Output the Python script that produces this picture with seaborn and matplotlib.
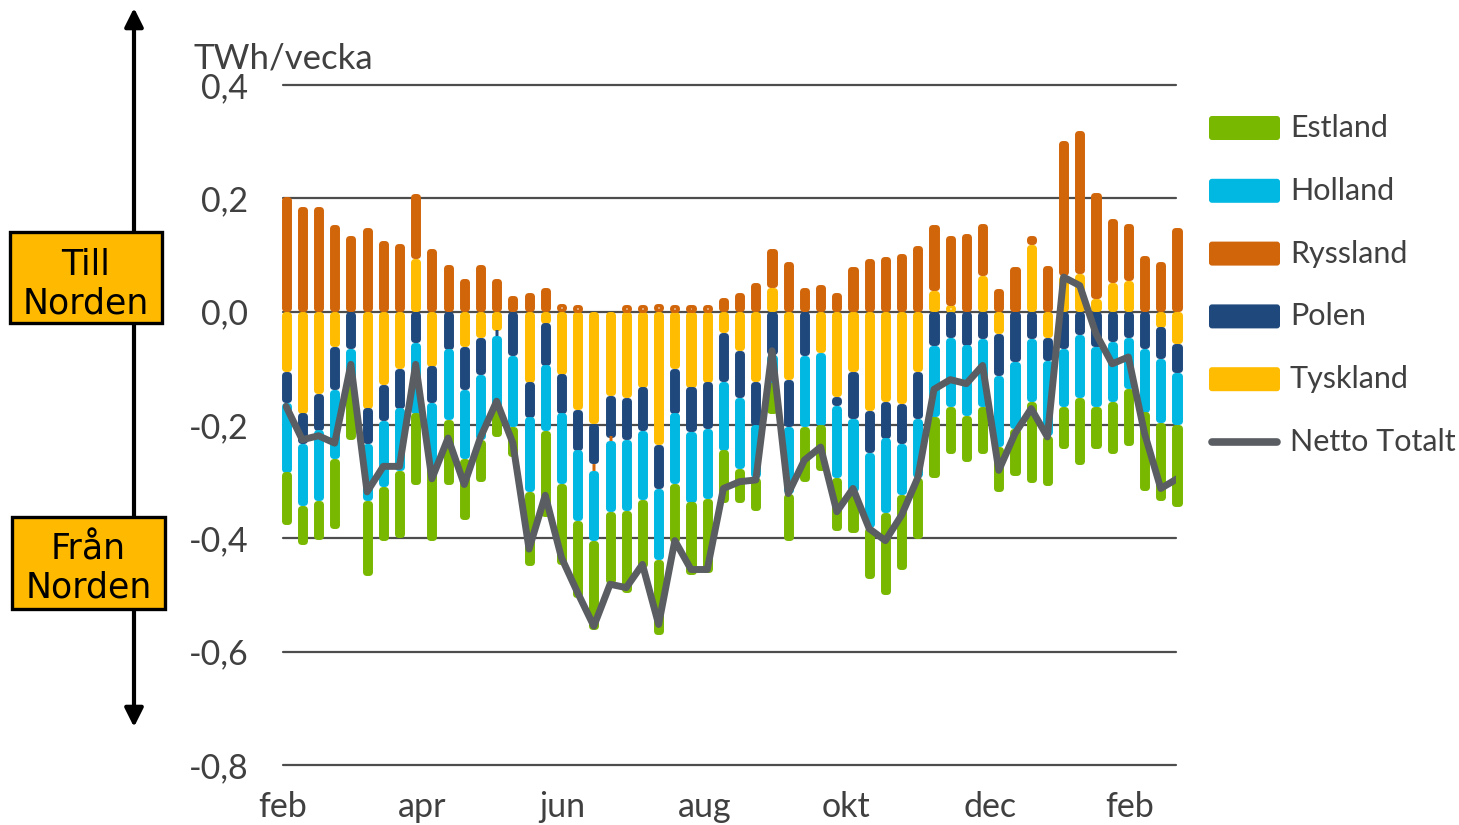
import numpy as np
import matplotlib
matplotlib.use("Agg")
import matplotlib.pyplot as plt
import seaborn as sns
from matplotlib.patches import Rectangle, FancyBboxPatch

# Weekly exchange (TWh/week), one value per week, feb -> feb/mar
weeks = list(range(56))
tyskland = [-0.105, -0.179, -0.145, -0.062, 0.0, -0.170, -0.129, -0.101, 0.094, -0.096,
            0.0, -0.062, -0.046, -0.033, 0.0, -0.124, -0.020, -0.110, -0.173, -0.197,
            -0.148, -0.152, -0.133, -0.235, -0.101, -0.133, -0.124, -0.037, -0.069, -0.123,
            0.043, -0.120, 0.0, -0.072, -0.150, -0.105, -0.174, -0.158, -0.162, -0.105,
            0.037, 0.011, 0.0, 0.064, -0.038, 0.0, 0.118, -0.045, 0.064, 0.067,
            0.023, 0.052, 0.055, 0.0, -0.027, -0.056]
polen = [-0.056, -0.053, -0.064, -0.075, -0.065, -0.062, -0.063, -0.069, -0.055, -0.065,
         -0.066, -0.075, -0.065, -0.010, -0.077, -0.062, -0.074, -0.069, -0.071, -0.071,
         -0.074, -0.074, -0.077, -0.077, -0.078, -0.079, -0.082, -0.086, -0.083, -0.077,
         -0.075, -0.083, -0.078, 0.0, -0.015, -0.084, -0.074, -0.065, -0.071, -0.083,
         -0.060, -0.046, -0.059, -0.048, -0.074, -0.088, -0.048, -0.041, -0.065, -0.040,
         -0.062, -0.053, -0.045, -0.065, -0.056, -0.052]
ryssland = [0.203, 0.185, 0.185, 0.153, 0.135, 0.149, 0.126, 0.120, 0.115, 0.111,
            0.083, 0.059, 0.083, 0.059, 0.028, 0.034, 0.043, 0.015, 0.011, -0.012,
            -0.006, 0.011, 0.011, 0.015, 0.011, 0.011, 0.011, 0.025, 0.033, 0.052,
            0.068, 0.088, 0.043, 0.047, 0.033, 0.079, 0.094, 0.098, 0.103, 0.117,
            0.116, 0.123, 0.138, 0.091, 0.040, 0.079, 0.016, 0.082, 0.238, 0.253,
            0.188, 0.112, 0.100, 0.099, 0.088, 0.149]
holland = [-0.122, -0.110, -0.124, -0.122, -0.059, -0.101, -0.116, -0.110, -0.124, -0.113,
           -0.125, -0.122, -0.115, -0.130, -0.126, -0.132, -0.116, -0.124, -0.125, -0.124,
           -0.125, -0.125, -0.121, -0.125, -0.124, -0.124, -0.124, -0.121, -0.125, -0.092,
           -0.050, -0.118, -0.125, -0.128, -0.128, -0.128, -0.133, -0.131, -0.090, -0.104,
           -0.125, -0.121, -0.124, -0.120, -0.126, -0.118, -0.111, -0.132, -0.103, -0.111,
           -0.106, -0.106, -0.091, -0.112, -0.112, -0.091]
estland = [-0.092, -0.068, -0.069, -0.124, -0.101, -0.133, -0.095, -0.118, -0.126, -0.130,
           -0.114, -0.107, -0.074, -0.047, -0.053, -0.129, -0.151, -0.143, -0.136, -0.157,
           -0.127, -0.145, -0.120, -0.133, -0.104, -0.127, -0.130, -0.092, -0.059, -0.059,
           -0.054, -0.083, -0.097, -0.080, -0.093, -0.072, -0.089, -0.145, -0.131, -0.109,
           -0.107, -0.083, -0.082, -0.083, -0.080, -0.083, -0.142, -0.088, -0.074, -0.118,
           -0.074, -0.092, -0.100, -0.138, -0.138, -0.145]
netto = [-0.167, -0.226, -0.219, -0.232, -0.093, -0.318, -0.273, -0.273, -0.093, -0.295,
         -0.223, -0.305, -0.222, -0.158, -0.232, -0.419, -0.324, -0.434, -0.496, -0.555,
         -0.481, -0.487, -0.446, -0.552, -0.404, -0.455, -0.455, -0.312, -0.300, -0.297,
         -0.069, -0.321, -0.262, -0.239, -0.353, -0.312, -0.383, -0.404, -0.359, -0.293,
         -0.137, -0.120, -0.127, -0.095, -0.280, -0.215, -0.171, -0.221, 0.061, 0.046,
         -0.039, -0.092, -0.080, -0.215, -0.312, -0.295]

month_labels = ["feb", "apr", "jun", "aug", "okt", "dec", "feb"]
month_pos = [-0.19, 8.4, 17.04, 25.86, 34.57, 43.46, 52.1]
y_ticks = [-0.8, -0.6, -0.4, -0.2, 0.0, 0.2, 0.4]

# stacking order as in the source workbook
series = [
    ("Tyskland", tyskland, "#FFBC00"),
    ("Polen", polen, "#1F497D"),
    ("Ryssland", ryssland, "#D1650A"),
    ("Holland", holland, "#00B8E2"),
    ("Estland", estland, "#79B800"),
]
legend_order = ["Estland", "Holland", "Ryssland", "Polen", "Tyskland"]
text_col = "#404040"
line_col = "#5A5E62"

sns.set_theme(style="white")
plt.rcParams["font.family"] = ["Lato", "DejaVu Sans"]

W, H = 1459, 825
fig = plt.figure(figsize=(W / 100, H / 100), dpi=100)
ax = fig.add_axes([283 / W, 1 - 765 / H, (1176 - 283) / W, (765 - 85) / H])
ax.set_xlim(-0.19, 54.94)
ax.set_ylim(-0.8, 0.4)

# rounded bar segments: thin rect + thick round-joined edge
px_per_unit = 680 / 1.2
r = 3.4 / px_per_unit
x = np.array(weeks)
pos_base = np.zeros(len(x))
neg_base = np.zeros(len(x))
for name, vals, col in series:
    v = np.array(vals)
    base = np.where(v >= 0, pos_base, neg_base)
    lo = np.minimum(base, base + v)
    h = np.abs(v)
    m = h > 0
    hh = np.maximum(h - 2 * r, 0.0003)
    bot = lo + np.where(h > 2 * r, r, h / 2)
    ax.bar(x[m], hh[m], bottom=bot[m], width=0.19, color=col, edgecolor=col,
           linewidth=5, joinstyle="round", clip_on=False, zorder=2)
    pos_base += np.where(v > 0, v, 0)
    neg_base += np.where(v < 0, v, 0)

sns.lineplot(x=weeks, y=netto, ax=ax, color=line_col, linewidth=5, zorder=5)

ax.set_yticks(y_ticks)
ax.set_yticklabels([f"{t:.1f}".replace(".", ",") for t in y_ticks])
ax.set_xticks(month_pos)
ax.set_xticklabels(month_labels)
ax.tick_params(axis="y", length=0, pad=25, labelsize=24.5, labelcolor=text_col)
ax.tick_params(axis="x", length=0, pad=19, labelsize=24.5, labelcolor=text_col)
ax.yaxis.grid(True, color="#4d4d4d", linewidth=1.6, clip_on=False)
ax.set_axisbelow(True)
for s in ax.spines.values():
    s.set_visible(False)

# overlay in pixel coords for the annotations and legend
ov = fig.add_axes([0, 0, 1, 1])
ov.set_xlim(0, W)
ov.set_ylim(H, 0)
ov.axis("off")
ov.patch.set_alpha(0)

ov.annotate("", xy=(134, 8), xytext=(134, 727),
            arrowprops=dict(arrowstyle="<|-|>", color="black", lw=3,
                            mutation_scale=28, shrinkA=0, shrinkB=0))
for (x0, y0, w, h), lines in [((10, 232, 152, 91), ("Till", "Norden")),
                              ((12, 517, 153, 92), ("Från", "Norden"))]:
    ov.add_patch(Rectangle((x0, y0), w, h, facecolor="#FFBA00", edgecolor="black",
                           linewidth=2.4, zorder=3))
    ov.text(x0 + w / 2, y0 + 33, lines[0], ha="center", va="center", fontsize=25,
            family="DejaVu Sans", color="black", zorder=4)
    ov.text(x0 + w / 2, y0 + 71, lines[1], ha="center", va="center", fontsize=25,
            family="DejaVu Sans", color="black", zorder=4)

ov.text(193, 58, "TWh/vecka", ha="left", va="center", fontsize=25, color=text_col)

colors = {n: c for n, _, c in series}
for i, name in enumerate(legend_order):
    yc = 128 + i * 62.8
    ov.add_patch(FancyBboxPatch((1209, yc - 12), 71, 24,
                                boxstyle="round,pad=0,rounding_size=3",
                                facecolor=colors[name], edgecolor="none"))
    ov.text(1290, yc, name, ha="left", va="center", fontsize=22, color=text_col)
yc = 128 + 5 * 62.8
ov.plot([1212, 1277], [yc, yc], color=line_col, linewidth=5.5, solid_capstyle="round")
ov.text(1290, yc, "Netto Totalt", ha="left", va="center", fontsize=22, color=text_col)

fig.savefig("out.png", dpi=100)
